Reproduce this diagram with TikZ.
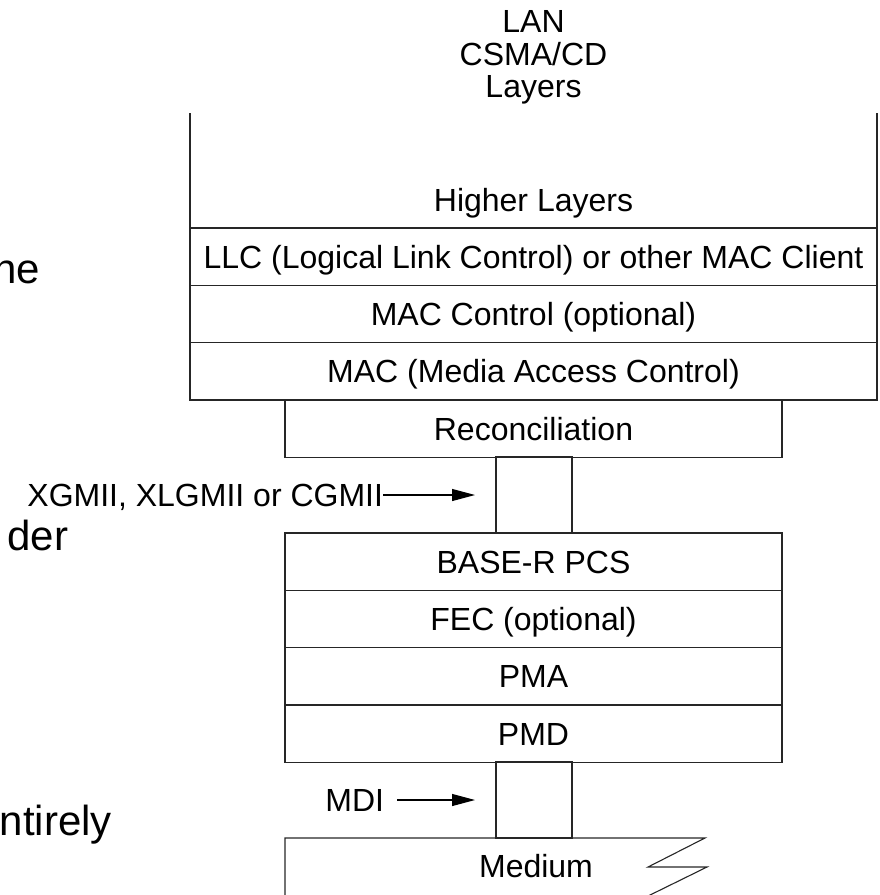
\documentclass[tikz,border=0pt]{standalone}
\usepackage{fontspec}
\setmainfont{Liberation Sans}
\usetikzlibrary{arrows.meta}

\begin{document}
\begin{tikzpicture}[x=1pt,y=-1pt,
  every node/.style={font=\fontsize{32}{34}\selectfont, inner sep=0pt, outer sep=0pt},
  edge/.style={line width=1.3pt, draw=black!85},
  layer/.style={edge, minimum height=57.3pt, text height=23pt, text depth=0pt},
  wide/.style={layer, minimum width=687pt},
  narrow/.style={layer, minimum width=497pt},
  gapbox/.style={edge, minimum width=76pt, minimum height=76pt},
  label/.style={text height=23pt, text depth=0pt},
  bigtext/.style={font=\fontsize{42}{44}\selectfont, anchor=base east},
  pointer/.style={line width=1.1pt, draw=black, -{Triangle[length=23pt,width=12pt]}}
]
\useasboundingbox (0,0) rectangle (879,895);

% text fragments on the left
\node[bigtext] (fragA) at (40,283) {ne};
\node[bigtext] (fragB) at (68,550) {der};
\node[bigtext] (fragC) at (112,835) {ntirely};

% heading
\node[anchor=base] (lan) at (533.5,32) {LAN};
\node[anchor=base] (csma) at (533.5,65) {CSMA/CD};
\node[anchor=base] (lyrs) at (533.5,97) {Layers};

% upper stack (open at the top)
\node[minimum width=687pt, minimum height=115pt] (hlbox) at (533.5,170.5) {};
\draw[edge] (hlbox.north west) -- (hlbox.south west) -- (hlbox.south east) -- (hlbox.north east);
\node[label] (hl) at (533.5,200) {Higher Layers};
\node[wide, draw] (llc)  at (533.5,256.6) {LLC (Logical Link Control) or other MAC Client};
\node[wide, draw] (macc) at (533.5,313.9) {MAC Control (optional)};
\node[wide, draw] (mac)  at (533.5,371.2) {MAC (Media Access Control)};

% reconciliation and interface gap
\node[narrow, draw] (rec) at (533.5,428.5) {Reconciliation};
\node[gapbox, draw] (xgmii) at (534,495) {};

% PHY sublayers
\node[narrow, draw] (pcs) at (533.5,561.6) {BASE-R PCS};
\node[narrow, draw] (fec) at (533.5,618.9) {FEC (optional)};
\node[narrow, draw] (pma) at (533.5,676.2) {PMA};
\node[narrow, draw] (pmd) at (533.5,733.5) {PMD};
\node[gapbox, draw] (mdi) at (534,800) {};

% medium with break symbol
\draw[edge, line width=1.1pt] (285,900) -- (285,838) -- (705,838) -- (648,867) -- (707,867) -- (644,898);
\node[label] (med) at (536,866) {Medium};

% interface labels and pointers
\node[label, anchor=east] (xgtext) at (383,495) {XGMII, XLGMII or CGMII};
\coordinate (xgtip) at (475,495);
\draw[pointer] (xgtext.east) -- (xgtip);

\node[label, anchor=east] (mditext) at (384,800) {MDI};
\coordinate (mdistart) at (397,800);
\coordinate (mditip) at (475,800);
\draw[pointer] (mdistart) -- (mditip);
\end{tikzpicture}
\end{document}
